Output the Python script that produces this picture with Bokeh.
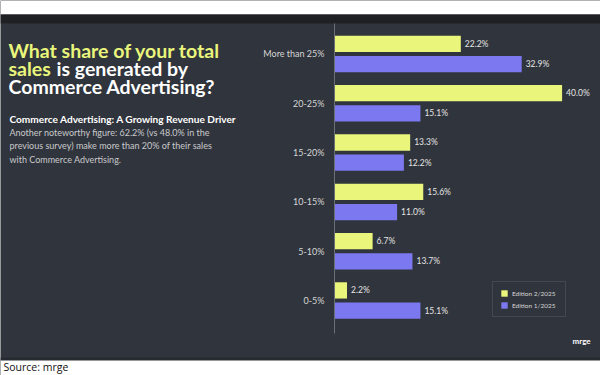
from bokeh.plotting import figure
from bokeh.models import (Range1d, Label, Legend, LegendItem, ColumnDataSource, FixedTicker,
                          LinearAxis, BoxAnnotation)
from bokeh.transform import dodge
from bokeh.core.properties import value
from bokeh.embed import file_html
from bokeh.resources import INLINE

# ---------------- data ----------------
categories = ["More than 25%", "20-25%", "15-20%", "10-15%", "5-10%", "0-5%"]
edition_2_2025 = [22.2, 40.0, 13.3, 15.6, 6.7, 2.2]
edition_1_2025 = [32.9, 15.1, 12.2, 11.0, 13.7, 15.1]
series_names = ["Edition 2/2025", "Edition 1/2025"]

BG = "#30343c"
YELLOW = "#e9f57b"
PURPLE = "#7c78f0"
FONT = "Lato"
W, H = 600, 375

pos = list(range(len(categories)))  # category slots, top to bottom

src = ColumnDataSource(dict(
    pos=pos,
    e2=edition_2_2025,
    e1=edition_1_2025,
    e2_label=[f"{v:.1f}%" for v in edition_2_2025],
    e1_label=[f"{v:.1f}%" for v in edition_1_2025],
))

# frame covers the whole canvas; value 0 sits at x=334 px, 5.69 px per percent
# category slots are 49.3 px apart, first slot centred at y=53.5 px
p = figure(width=W, height=H, toolbar_location=None, output_backend="svg",
           x_range=Range1d(-58.70, 46.75), y_range=Range1d(6.521, -1.085),
           x_axis_location=None, y_axis_location=None,
           min_border_left=0, min_border_right=0, min_border_top=0, min_border_bottom=0,
           background_fill_color=BG, border_fill_color=BG, outline_line_color=None)
p.grid.visible = False

# page decoration: white strips and dark band (screen units, from frame bottom)
p.add_layout(BoxAnnotation(bottom=H - 14, bottom_units="screen", fill_color="white", fill_alpha=1,
                           line_color=None, level="underlay"))
p.add_layout(BoxAnnotation(bottom=H - 23, top=H - 14, bottom_units="screen", top_units="screen",
                           fill_color="#1f2023", fill_alpha=1, line_color=None, level="underlay"))
p.add_layout(BoxAnnotation(bottom=15, top=18, bottom_units="screen", top_units="screen",
                           fill_color="#272a30", fill_alpha=1, line_color=None, level="underlay"))
p.add_layout(BoxAnnotation(top=15, top_units="screen", fill_color="white", fill_alpha=1,
                           line_color=None, level="underlay"))

r2 = p.hbar(y=dodge("pos", -0.205), left=0, right="e2", height=0.33,
            fill_color=YELLOW, line_color=None, source=src)
r1 = p.hbar(y=dodge("pos", 0.205), left=0, right="e1", height=0.33,
            fill_color=PURPLE, line_color=None, source=src)

p.text(x="e2", y=dodge("pos", -0.205), text="e2_label", x_offset=4,
       text_baseline="middle", text_font_size="8.5px", text_color="#e4e4e4",
       text_font=value(FONT), source=src)
p.text(x="e1", y=dodge("pos", 0.205), text="e1_label", x_offset=4,
       text_baseline="middle", text_font_size="8.5px", text_color="#e4e4e4",
       text_font=value(FONT), source=src)

ax = LinearAxis(fixed_location=0, ticker=FixedTicker(ticks=pos),
                major_label_overrides={i: c for i, c in zip(pos, categories)},
                bounds=(-0.619, 5.669))
ax.axis_line_color = "#6b6f76"
ax.axis_line_width = 1
ax.major_tick_line_color = None
ax.minor_tick_line_color = None
ax.major_label_text_color = "#d6d6d6"
ax.major_label_text_font_size = "9px"
ax.major_label_text_font = FONT
ax.major_label_standoff = 4
p.add_layout(ax, "left")

legend = Legend(items=[LegendItem(label=series_names[0], renderers=[r2]),
                       LegendItem(label=series_names[1], renderers=[r1])],
                location=(492, 58), orientation="vertical",
                background_fill_color=BG, background_fill_alpha=1,
                border_line_color="#575b63", border_line_width=1,
                label_text_color="#d6d6d6", label_text_font_size="6.5px", label_text_font=FONT,
                glyph_width=8, glyph_height=8, label_height=8, label_width=46,
                label_standoff=4, spacing=4, padding=7, margin=0)
p.add_layout(legend)


def add_label(text, x_abs, y_abs, size, color, style="normal", font=FONT, baseline="alphabetic"):
    p.add_layout(Label(x=x_abs, y=H - y_abs, x_units="screen", y_units="screen",
                       text=text, text_font=font, text_font_size=size, text_color=color,
                       text_font_style=style, text_baseline=baseline, text_align="left"))


add_label("What share of your total", 8, 49.5, "19.5px", YELLOW, "bold")
add_label("sales", 8, 67.5, "19.5px", YELLOW, "bold")
add_label("is generated by", 56, 67.5, "19.5px", "#ffffff", "bold")
add_label("Commerce Advertising?", 8, 86, "19.5px", "#ffffff", "bold")
add_label("Commerce Advertising: A Growing Revenue Driver", 9, 118.7, "10.1px", "#ffffff", "bold")
add_label("Another noteworthy figure: 62.2% (vs 48.0% in the", 9, 131.7, "9px", "#c9cacc")
add_label("previous survey) make more than 20% of their sales", 9, 145.3, "9px", "#c9cacc")
add_label("with Commerce Advertising.", 9, 159, "9px", "#c9cacc")
add_label("mrge", 572, 340.7, "8px", "#ffffff", "bold")
add_label("Source: mrge", 3, 366.5, "10.5px", "#111111", font="Open Sans", baseline="middle")

open("out.html", "w").write(file_html(p, INLINE))
